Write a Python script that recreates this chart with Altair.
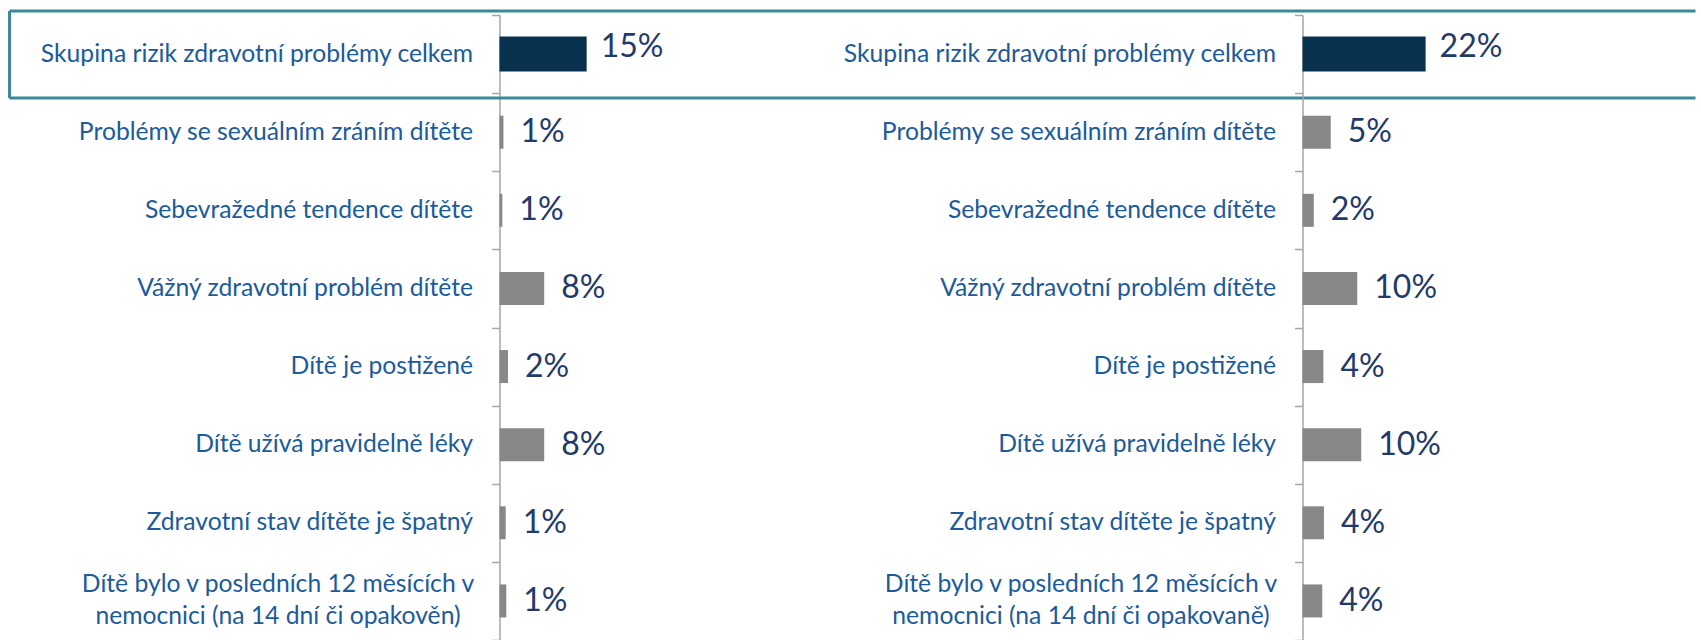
import altair as alt
import pandas as pd

# ---- data ----
cats_left = [
    "Skupina rizik zdravotní problémy celkem",
    "Problémy se sexuálním zráním dítěte",
    "Sebevražedné tendence dítěte",
    "Vážný zdravotní problém dítěte",
    "Dítě je postižené",
    "Dítě užívá pravidelně léky",
    "Zdravotní stav dítěte je špatný ",
    "Dítě bylo v posledních 12 měsících v|nemocnici (na 14 dní či opakověn)",
]
cats_right = [
    "Skupina rizik zdravotní problémy celkem",
    "Problémy se sexuálním zráním dítěte",
    "Sebevražedné tendence dítěte",
    "Vážný zdravotní problém dítěte",
    "Dítě je postižené",
    "Dítě užívá pravidelně léky",
    "Zdravotní stav dítěte je špatný",
    "Dítě bylo v posledních 12 měsících v|nemocnici (na 14 dní či opakovaně)",
]
vals_left = [15.4, 0.7, 0.5, 7.9, 1.5, 7.9, 1.1, 1.2]
labels_left = ["15%", "1%", "1%", "8%", "2%", "8%", "1%", "1%"]
vals_right = [21.8, 5.0, 2.0, 9.7, 3.7, 10.4, 3.8, 3.5]
labels_right = ["22%", "5%", "2%", "10%", "4%", "10%", "4%", "4%"]
groups = ["total", "item", "item", "item", "item", "item", "item", "item"]

# ---- styles ----
DARK = "#08304F"
BARGREY = "#878787"
AXGREY = "#A6A6A6"
BLUE = "#1B5B9B"
NAVY = "#1F3A6B"
TEAL = "#3B8A9A"
FONT = "Lato"
MULTI = "indexof(datum.label, '|') >= 0"


def panel(cats, vals, labs, xmax, width, with_box):
    df = pd.DataFrame({"cat": cats, "val": vals, "lab": labs, "grp": groups})
    y = alt.Y(
        "cat:N",
        sort=cats,
        title=None,
        scale=alt.Scale(paddingInner=0, paddingOuter=0),
        axis=alt.Axis(
            domain=True, domainColor=AXGREY, domainWidth=1.5,
            ticks=True, tickBand="extent", tickSize=8, tickColor=AXGREY, tickWidth=1.5,
            labelFont=FONT, labelFontSize=24.7, labelColor=BLUE,
            labelLimit=800, labelExpr="split(datum.label, '|')", labelLineHeight=32,
            labelPadding={"condition": {"test": MULTI, "value": 214}, "value": 19},
            labelAlign={"condition": {"test": MULTI, "value": "center"}, "value": "right"},
            labelOffset={"condition": {"test": MULTI, "value": -16}, "value": 0},
            grid=False,
        ),
    )
    x = alt.X("val:Q", scale=alt.Scale(domain=[0, xmax]), axis=None)
    base = alt.Chart(df)
    top = base.transform_filter("datum.grp == 'total'")
    rest = base.transform_filter("datum.grp == 'item'")
    bar_top = top.mark_bar(size=35, color=DARK).encode(x=x, y=y)
    bar_rest = rest.mark_bar(size=33, color=BARGREY).encode(x=x, y=y)
    txt_top = top.mark_text(align="left", baseline="middle", dx=14, dy=-7,
                            font=FONT, fontSize=32, color=NAVY).encode(x=x, y=y, text="lab:N")
    txt_rest = rest.mark_text(align="left", baseline="middle", dx=17,
                              font=FONT, fontSize=32, color=NAVY).encode(x=x, y=y, text="lab:N")
    layers = []
    if with_box:
        one = alt.Chart(pd.DataFrame({"k": [0]}))
        layers += [
            one.mark_rule(color=TEAL, strokeWidth=3).encode(
                x=alt.value(-490), x2=alt.value(1196), y=alt.value(-4)),
            one.mark_rule(color=TEAL, strokeWidth=3).encode(
                x=alt.value(-490), x2=alt.value(1196), y=alt.value(83)),
            one.mark_rule(color=TEAL, strokeWidth=3).encode(
                x=alt.value(-490), y=alt.value(-4), y2=alt.value(83)),
        ]
    layers += [bar_top, bar_rest, txt_top, txt_rest]
    return alt.layer(*layers).properties(width=width, height=625)


left = panel(cats_left, vals_left, labels_left, 50, 283, True)
right = panel(cats_right, vals_right, labels_right, 68, 384, False)

chart = (
    alt.hconcat(left, right, spacing=520, bounds="flush")
    .properties(padding={"left": 7.5, "top": 2, "right": 0, "bottom": 0})
    .configure_view(stroke=None)
)

chart.save("out.html", embed_options={"renderer": "svg", "actions": False})
